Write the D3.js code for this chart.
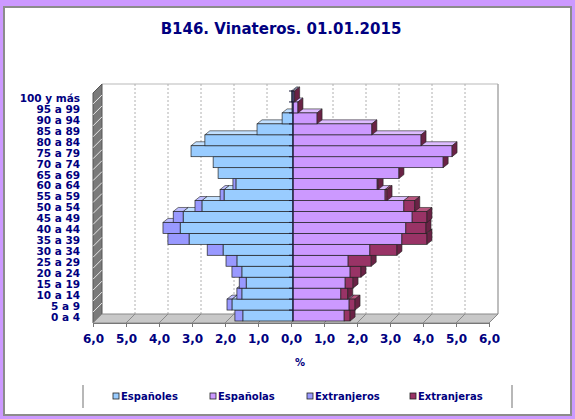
<!DOCTYPE html>
<html>
<head>
<meta charset="utf-8">
<script src="https://cdn.jsdelivr.net/npm/d3@7"></script>
<style>
  body { margin: 0; background: #CC99FF; }
  svg { display: block; }
</style>
</head>
<body>
<script>
// grupos de edad, de abajo arriba
var categories = ["0 a 4", "5 a 9", "10 a 14", "15 a 19", "20 a 24", "25 a 29", "30 a 34",
  "35 a 39", "40 a 44", "45 a 49", "50 a 54", "55 a 59", "60 a 64", "65 a 69", "70 a 74",
  "75 a 79", "80 a 84", "85 a 89", "90 a 94", "95 a 99", "100 y más"];

// % de la población
var espanoles   = [1.52, 1.85, 1.55, 1.42, 1.55, 1.70, 2.12, 3.15, 3.42, 3.33, 2.76, 2.09, 1.73, 2.27, 2.42, 3.09, 2.67, 1.09, 0.33, 0.03, 0.05];
var extranjeros = [0.24, 0.15, 0.15, 0.21, 0.30, 0.33, 0.48, 0.64, 0.52, 0.30, 0.21, 0.12, 0.09, 0, 0, 0, 0, 0, 0, 0, 0];
var espanolas   = [1.55, 1.70, 1.45, 1.58, 1.73, 1.67, 2.33, 3.30, 3.42, 3.61, 3.36, 2.79, 2.55, 3.21, 4.55, 4.82, 3.88, 2.39, 0.73, 0.15, 0.05];
var extranjeras = [0.18, 0.18, 0.21, 0.24, 0.33, 0.70, 0.82, 0.76, 0.61, 0.45, 0.33, 0.06, 0.03, 0, 0, 0, 0, 0, 0, 0, 0];

var tickValues = [-6, -5, -4, -3, -2, -1, 0, 1, 2, 3, 4, 5, 6];
var tickLabels = ["6,0", "5,0", "4,0", "3,0", "2,0", "1,0", "0,0", "1,0", "2,0", "3,0", "4,0", "5,0", "6,0"];
var seriesNames = ["Españoles", "Españolas", "Extranjeros", "Extranjeras"];

var W = 575, H = 419;
var navy = "#000080";
var font = "'DejaVu Sans', Verdana, sans-serif";

// colores: frente, cara superior
var col = {
  espanoles:   ["#99CCFF", "#c2e0ff"],
  extranjeros: ["#9999FF", "#bdbdff"],
  espanolas:   ["#CC99FF", "#ddbcff"],
  extranjeras: ["#993366", "#b8567f"]
};
var sideColor = "#6a2245";
var legendColors = ["#99CCFF", "#CC99FF", "#9999FF", "#993366"];

var svg = d3.select("body").append("svg")
  .attr("width", W).attr("height", H);

// panel blanco
svg.append("rect")
  .attr("x", 4).attr("y", 7).attr("width", 567).attr("height", 408)
  .attr("fill", "white").attr("stroke", "#8c8c8c").attr("stroke-width", 2);

svg.append("text")
  .attr("x", 281).attr("y", 33.7)
  .attr("text-anchor", "middle")
  .style("font-family", font).style("font-weight", "bold").style("font-size", "15px")
  .attr("fill", navy)
  .text("B146. Vinateros. 01.01.2015");

// escalas (plano frontal)
var x = d3.scaleLinear().domain([-6, 6]).range([93, 489]);
var y = d3.scaleBand().domain(categories.slice().reverse()).range([93, 323]).padding(0);
var bw = y.bandwidth();

var D = 9;          // profundidad de las paredes
var bx = 2, by = -2; // desplazamiento de las barras
var dx = 5, dy = 4;  // profundidad de las barras

// pared del fondo
svg.append("line")
  .attr("x1", x(-6) + D).attr("x2", x(6) + D).attr("y1", 93 - D).attr("y2", 93 - D)
  .attr("stroke", "#d0d0d0").attr("stroke-width", 1.5);
svg.append("line")
  .attr("x1", x(6) + D).attr("x2", x(6) + D).attr("y1", 93 - D).attr("y2", 323 - D)
  .attr("stroke", "#a8a8a8").attr("stroke-width", 1.5);
svg.selectAll(".grid").data(tickValues.filter(function (v) { return v !== 0 && Math.abs(v) !== 6; }))
  .enter().append("line")
  .attr("x1", function (v) { return x(v) + D; })
  .attr("x2", function (v) { return x(v) + D; })
  .attr("y1", 93 - D).attr("y2", 323 - D)
  .attr("stroke", "#b0b0b0").attr("stroke-dasharray", "2,2");

// pared izquierda
svg.append("polygon")
  .attr("points", [[93, 93], [93 + D, 93 - D], [93 + D, 323 - D], [93, 323]].join(" "))
  .attr("fill", "#7a7a7a").attr("stroke", "#555");
svg.selectAll(".wallLine").data(categories.slice(1))
  .enter().append("line")
  .attr("x1", 93).attr("x2", 93 + D)
  .attr("y1", function (c) { return y(c) + bw; })
  .attr("y2", function (c) { return y(c) + bw - D; })
  .attr("stroke", "#e8e8e8").attr("stroke-width", 1);

// suelo
svg.append("polygon")
  .attr("points", [[93, 323], [489, 323], [489 + D, 323 - D], [93 + D, 323 - D]].join(" "))
  .attr("fill", "#c8c8c8").attr("stroke", "#8a8a8a");
svg.selectAll(".floorLine").data(tickValues)
  .enter().append("line")
  .attr("x1", function (v) { return x(v); })
  .attr("x2", function (v) { return x(v) + D; })
  .attr("y1", 323).attr("y2", 323 - D)
  .attr("stroke", "#8a8a8a");

// barras
function X(v) { return x(v) + bx; }

function segment(g, v0, v1, yTop, c) {
  if (v0 === v1) return;
  var a = Math.min(X(v0), X(v1)), b = Math.max(X(v0), X(v1));
  g.append("polygon")
    .attr("points", [[a, yTop], [b, yTop], [b + dx, yTop - dy], [a + dx, yTop - dy]].join(" "))
    .attr("fill", c[1]).attr("stroke", "#222").attr("stroke-width", 0.6);
  g.append("rect")
    .attr("x", a).attr("y", yTop).attr("width", b - a).attr("height", bw)
    .attr("fill", c[0]).attr("stroke", "#222").attr("stroke-width", 0.7);
}

var bars = svg.append("g");
categories.forEach(function (cat, i) {
  var g = bars.append("g");
  var yt = y(cat) + by;
  var a = espanoles[i], b = extranjeros[i], c = espanolas[i], d = extranjeras[i];
  segment(g, 0, -a, yt, col.espanoles);
  segment(g, -a, -(a + b), yt, col.extranjeros);
  segment(g, 0, c, yt, col.espanolas);
  segment(g, c, c + d, yt, col.extranjeras);
  var xe = X(c + d);
  g.append("polygon")
    .attr("points", [[xe, yt], [xe + dx, yt - dy], [xe + dx, yt - dy + bw], [xe, yt + bw]].join(" "))
    .attr("fill", sideColor).attr("stroke", "#222").attr("stroke-width", 0.6);
});

// eje de categorías en el cero
svg.append("line")
  .attr("x1", X(0)).attr("x2", X(0)).attr("y1", 93 + by).attr("y2", 323 + by)
  .attr("stroke", "#1a1a3a").attr("stroke-width", 1.2);
svg.selectAll(".catTick").data(categories)
  .enter().append("line")
  .attr("x1", X(0) - 4).attr("x2", X(0))
  .attr("y1", function (c) { return y(c) + by; })
  .attr("y2", function (c) { return y(c) + by; })
  .attr("stroke", "#1a1a3a");

// eje x
var xAxis = svg.append("g")
  .attr("transform", "translate(0,323)")
  .call(d3.axisBottom(x).tickValues(tickValues).tickSize(4).tickPadding(7)
    .tickFormat(function (v, i) { return tickLabels[i]; }));
xAxis.select(".domain").attr("stroke", "#777");
xAxis.selectAll(".tick line").attr("stroke", "#777");
xAxis.selectAll("text")
  .attr("fill", navy)
  .style("font-family", font).style("font-weight", "bold").style("font-size", "12px");

svg.append("text")
  .attr("x", 300).attr("y", 366)
  .attr("text-anchor", "middle")
  .style("font-family", font).style("font-weight", "bold").style("font-size", "10px")
  .attr("fill", navy).text("%");

// eje y (etiquetas)
var yAxis = svg.append("g")
  .attr("transform", "translate(93,0)")
  .call(d3.axisLeft(y).tickSize(0).tickPadding(13));
yAxis.select(".domain").remove();
yAxis.selectAll("text")
  .attr("fill", navy)
  .style("font-family", font).style("font-weight", "bold").style("font-size", "10.5px");

// leyenda
svg.append("line").attr("x1", 83).attr("x2", 83).attr("y1", 385).attr("y2", 408)
  .attr("stroke", "#a0a0a0").attr("stroke-width", 1.5);
svg.append("line").attr("x1", 512).attr("x2", 512).attr("y1", 385).attr("y2", 408)
  .attr("stroke", "#a0a0a0").attr("stroke-width", 1.5);

var legendX = [113, 210, 307, 410];
var leg = svg.selectAll(".leg").data(seriesNames).enter().append("g")
  .attr("transform", function (d, i) { return "translate(" + legendX[i] + ",393)"; });
leg.append("rect")
  .attr("width", 6).attr("height", 6)
  .attr("fill", function (d, i) { return legendColors[i]; })
  .attr("stroke", "#222").attr("stroke-width", 0.8);
leg.append("text")
  .attr("x", 8).attr("y", 7)
  .attr("fill", navy)
  .style("font-family", font).style("font-weight", "bold").style("font-size", "10px")
  .text(function (d) { return d; });
</script>
</body>
</html>
